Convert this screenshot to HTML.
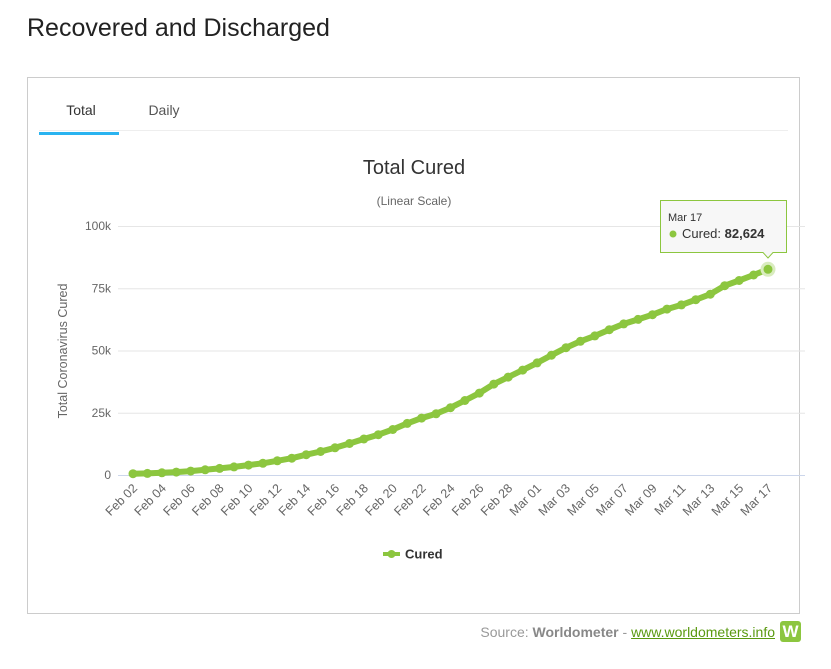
<!DOCTYPE html>
<html><head><meta charset="utf-8"><style>
body{margin:0;background:#fff;width:831px;height:669px;position:relative;font-family:"Liberation Sans",sans-serif;overflow:hidden}
h1{position:absolute;left:27px;top:14px;margin:0;font-weight:normal;font-size:25px;color:#222}
.box{position:absolute;left:27px;top:77px;width:773px;height:537px;border:1px solid #ccc;box-sizing:border-box}
.src{position:absolute;right:56px;top:624px;font-size:14px;color:#999}
.src b{color:#888}
.src a{color:#5a9a10;text-decoration:underline}
.logo{position:absolute;left:780px;top:621px;width:21px;height:21px;background:#8cc63f;border-radius:3px;color:#fff;font-weight:bold;font-size:17px;text-align:center;line-height:21px}
</style></head><body>
<h1>Recovered and Discharged</h1>
<div class="box"></div>
<svg id="s" width="831" height="669" style="position:absolute;left:0;top:0" font-family="Liberation Sans, DejaVu Sans, sans-serif">
<text x="81" y="115" font-size="14" fill="#333" text-anchor="middle">Total</text>
<text x="164" y="115" font-size="14" fill="#555" text-anchor="middle">Daily</text>
<rect x="39" y="132" width="80" height="3" fill="#2ab3f0"/>
<line x1="39" y1="130.5" x2="788" y2="130.5" stroke="#eee"/>
<text x="414" y="174" font-size="20" fill="#333" text-anchor="middle">Total Cured</text>
<text x="414" y="205" font-size="12" fill="#666" text-anchor="middle">(Linear Scale)</text>
<text x="67" y="351" font-size="12.5" fill="#666" text-anchor="middle" transform="rotate(-90 67 351)">Total Coronavirus Cured</text>
<g id="g"></g>
<g transform="translate(383,554)"><line x1="0" y1="0" x2="17" y2="0" stroke="#8cc63f" stroke-width="4"/><circle cx="8.5" cy="0" r="4" fill="#8cc63f"/><text x="22" y="4.5" font-size="13" font-weight="bold" fill="#333">Cured</text></g>
<path d="M660.5 200.5 H786.5 V252.5 H773 L768 258 L763 252.5 H660.5 Z" fill="#f7f7f7" stroke="#8cc63f" stroke-width="1"/>
<text x="668" y="221" font-size="11" fill="#333">Mar 17</text>
<circle cx="673" cy="234" r="3.5" fill="#8cc63f"/>
<text x="682" y="238" font-size="13" fill="#333">Cured: <tspan font-weight="bold">82,624</tspan></text>
</svg>
<div class="src">Source: <b>Worldometer</b> - <a>www.worldometers.info</a></div>
<div class="logo">W</div>
<script>
var d=[520,633,893,1177,1558,2075,2660,3250,3964,4718,5686,6742,8134,9419,10916,12642,14445,16184,18264,20725,22868,24565,27011,29912,32900,36500,39318,42131,45020,48099,51135,53700,55880,58360,60694,62493,64386,66625,68330,70404,72604,76034,78110,80305,82624];
var g=document.getElementById('g'),h='',x0=133,dx=635/44,y0=475,k=249/100000;
[0,25,50,75,100].forEach(function(v){var y=y0-v*1000*k;h+='<line x1="118" x2="805" y1="'+(y+0.5)+'" y2="'+(y+0.5)+'" stroke="'+(v?'#e6e6e6':'#ccd6eb')+'"/>';h+='<text x="111" y="'+(y+4)+'" font-size="12" fill="#666" text-anchor="end">'+(v?v+'k':'0')+'</text>';});
var pts=d.map(function(v,i){return (x0+i*dx).toFixed(1)+','+(y0-v*k).toFixed(1)});
h+='<polyline points="'+pts.join(' ')+'" fill="none" stroke="#8cc63f" stroke-width="6" stroke-linejoin="round"/>';
pts.forEach(function(p,i){var a=p.split(',');h+='<circle cx="'+a[0]+'" cy="'+a[1]+'" r="'+(i==44?6:4.5)+'" fill="#8cc63f"'+(i==44?' stroke="#d9ecbf" stroke-width="3"':'')+'/>';});
for(var i=0;i<45;i+=2){var day=i<28?'Feb '+('0'+(i+2)).slice(-2):'Mar '+('0'+(i-27)).slice(-2);var x=x0+i*dx+5,y=489;h+='<text x="'+x+'" y="'+y+'" font-size="12.5" fill="#666" text-anchor="end" transform="rotate(-45 '+x+' '+y+')">'+day+'</text>';}
g.innerHTML=h;
</script>
</body></html>
